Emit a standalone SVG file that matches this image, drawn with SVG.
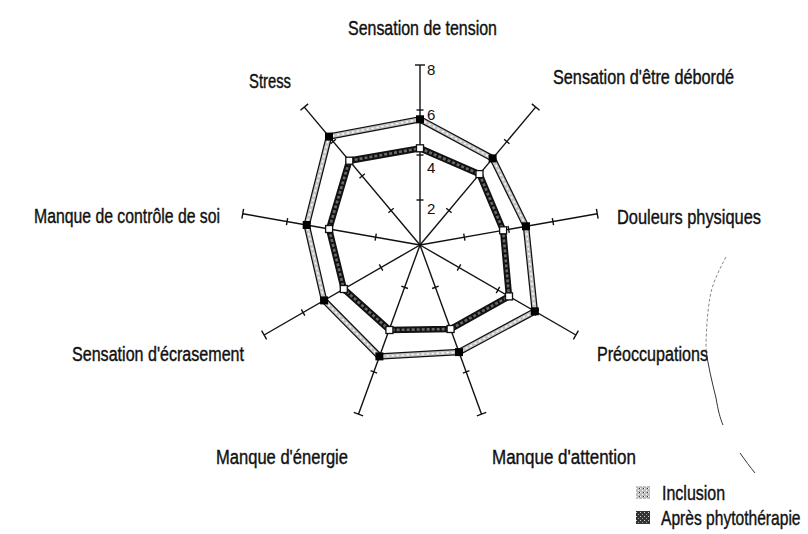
<svg xmlns="http://www.w3.org/2000/svg" xmlns:xlink="http://www.w3.org/1999/xlink" width="808" height="534" viewBox="0 0 808 534">
<style>
.lbl{font-family:"Liberation Sans",Arial,sans-serif;font-size:20px;fill:#111;stroke:#111;stroke-width:0.4;}
.num{font-family:"Liberation Sans",Arial,sans-serif;font-size:15px;fill:#111;}
.ax{stroke:#111;stroke-width:1.4;fill:none;}
.edge{stroke:#111;stroke-width:6.5;fill:none;stroke-linejoin:miter;}
.outerFill{stroke:#c4c4c4;stroke-width:4;fill:none;}
.outerDash{stroke:#fff;stroke-width:1.4;stroke-dasharray:2 3;fill:none;}
.innerFill{stroke:#6a6a6a;stroke-width:2.6;stroke-dasharray:3 2;fill:none;}
.mOut{fill:#000;}
.mIn{fill:#fff;stroke:#111;stroke-width:1.3;}
</style>
<defs>
<g id="axis">
<line class="ax" x1="420" y1="245" x2="420" y2="65"/>
<line class="ax" x1="416.5" y1="200" x2="423.5" y2="200"/>
<line class="ax" x1="416.5" y1="155" x2="423.5" y2="155"/>
<line class="ax" x1="416.5" y1="110" x2="423.5" y2="110"/>
<line class="ax" x1="415" y1="65" x2="425" y2="65"/>
</g>
<pattern id="pLight" width="4" height="4" patternUnits="userSpaceOnUse">
<rect width="4" height="4" fill="#bdbdbd"/>
<rect x="0" y="0" width="1" height="1" fill="#fff"/>
<rect x="2" y="2" width="1" height="1" fill="#fff"/>
<rect x="3" y="0" width="1" height="1" fill="#333"/>
</pattern>
<pattern id="pDark" width="4" height="4" patternUnits="userSpaceOnUse">
<rect width="4" height="4" fill="#333"/>
<rect x="0" y="0" width="1" height="1" fill="#ccc"/>
<rect x="2" y="2" width="1" height="1" fill="#999"/>
</pattern>
</defs>

<g id="axes">
<use xlink:href="#axis"/>
<use xlink:href="#axis" transform="rotate(40 420 245)"/>
<use xlink:href="#axis" transform="rotate(80 420 245)"/>
<use xlink:href="#axis" transform="rotate(120 420 245)"/>
<use xlink:href="#axis" transform="rotate(160 420 245)"/>
<use xlink:href="#axis" transform="rotate(200 420 245)"/>
<use xlink:href="#axis" transform="rotate(240 420 245)"/>
<use xlink:href="#axis" transform="rotate(280 420 245)"/>
<use xlink:href="#axis" transform="rotate(320 420 245)"/>
<text class="num" x="427" y="75">8</text>
<text class="num" x="427" y="120">6</text>
<text class="num" x="427" y="173">4</text>
<text class="num" x="427" y="214">2</text>
</g>

<g id="series-inclusion">
<polygon class="edge" points="420,119.3 492.6,158.4 526,226.3 534.8,311.3 459,352.1 379.4,356.4 324.1,300.4 306.7,225 329,136.6"/>
<polygon class="outerFill" points="420,119.3 492.6,158.4 526,226.3 534.8,311.3 459,352.1 379.4,356.4 324.1,300.4 306.7,225 329,136.6"/>
<polygon class="outerDash" points="420,119.3 492.6,158.4 526,226.3 534.8,311.3 459,352.1 379.4,356.4 324.1,300.4 306.7,225 329,136.6"/>
<rect class="mOut" x="416" y="115.3" width="8" height="8"/>
<rect class="mOut" x="488.6" y="154.4" width="8" height="8"/>
<rect class="mOut" x="522" y="222.3" width="8" height="8"/>
<rect class="mOut" x="530.8" y="307.3" width="8" height="8"/>
<rect class="mOut" x="455" y="348.1" width="8" height="8"/>
<rect class="mOut" x="375.4" y="352.4" width="8" height="8"/>
<rect class="mOut" x="320.1" y="296.4" width="8" height="8"/>
<rect class="mOut" x="302.7" y="221" width="8" height="8"/>
<rect class="mOut" x="325" y="132.6" width="8" height="8"/>
</g>

<g id="series-apres">
<polygon class="edge" points="420,148.3 479.5,174.1 503.1,230.3 509,296.4 450.6,329 389.4,330 343.8,289 329.1,229 349.3,160.7"/>
<polygon class="innerFill" points="420,148.3 479.5,174.1 503.1,230.3 509,296.4 450.6,329 389.4,330 343.8,289 329.1,229 349.3,160.7"/>
<rect class="mIn" x="416.5" y="144.8" width="7" height="7"/>
<rect class="mIn" x="476" y="170.6" width="7" height="7"/>
<rect class="mIn" x="499.6" y="226.8" width="7" height="7"/>
<rect class="mIn" x="505.5" y="292.9" width="7" height="7"/>
<rect class="mIn" x="447.1" y="325.5" width="7" height="7"/>
<rect class="mIn" x="385.9" y="326.5" width="7" height="7"/>
<rect class="mIn" x="340.3" y="285.5" width="7" height="7"/>
<rect class="mIn" x="325.6" y="225.5" width="7" height="7"/>
<rect class="mIn" x="345.8" y="157.2" width="7" height="7"/>
</g>

<g id="labels">
<text class="lbl" x="348" y="35" textLength="149" lengthAdjust="spacingAndGlyphs">Sensation de tension</text>
<text class="lbl" x="553" y="84" textLength="181" lengthAdjust="spacingAndGlyphs">Sensation d'être débordé</text>
<text class="lbl" x="617" y="224" textLength="144" lengthAdjust="spacingAndGlyphs">Douleurs physiques</text>
<text class="lbl" x="597" y="361" textLength="111" lengthAdjust="spacingAndGlyphs">Préoccupations</text>
<text class="lbl" x="492" y="464" textLength="144" lengthAdjust="spacingAndGlyphs">Manque d'attention</text>
<text class="lbl" x="216" y="464" textLength="132" lengthAdjust="spacingAndGlyphs">Manque d'énergie</text>
<text class="lbl" x="72" y="361" textLength="172" lengthAdjust="spacingAndGlyphs">Sensation d'écrasement</text>
<text class="lbl" x="34" y="223" textLength="186" lengthAdjust="spacingAndGlyphs">Manque de contrôle de soi</text>
<text class="lbl" x="249" y="88" textLength="42" lengthAdjust="spacingAndGlyphs">Stress</text>
</g>

<g id="legend">
<rect x="636" y="486" width="14" height="13" fill="url(#pLight)"/>
<text class="lbl" transform="translate(662 500) scale(0.8 1)" x="0" y="0">Inclusion</text>
<rect x="636" y="511" width="14" height="13" fill="url(#pDark)"/>
<text class="lbl" transform="translate(661 525) scale(0.78 1)" x="0" y="0">Après phytothérapie</text>
</g>

<g id="scan-mark" fill="none" stroke="#333" stroke-width="1">
<path d="M726,257 C718,272 712,285 710,297 C707,315 706,335 706,350" stroke="#888" stroke-dasharray="3 2"/>
<path d="M706,350 C708,365 712,382 716,398 C718,410 720,418 723,425"/>
<path d="M740,453 C745,460 750,467 755,473"/>
</g>
</svg>
